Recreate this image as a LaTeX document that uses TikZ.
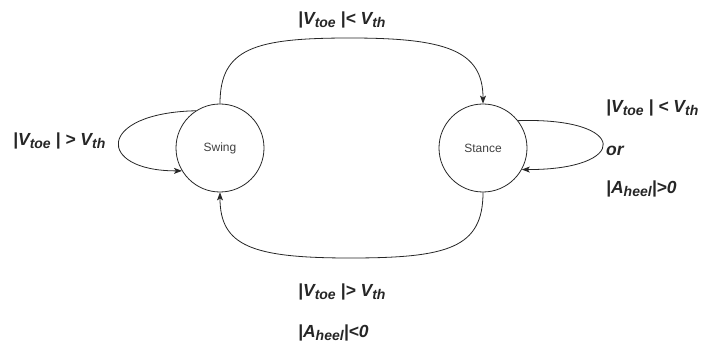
\documentclass[tikz,border=0pt]{standalone}
\usepackage{fontspec}
\setsansfont{Liberation Sans}
\usetikzlibrary{arrows.meta}
\newcommand\lowidx[1]{\raisebox{-0.35ex}{\fontsize{14}{14}\selectfont #1}}
\tikzset{
  state/.style={circle, draw=black!85, line width=0.8pt, minimum size=88pt, inner sep=0pt,
                font=\sffamily\fontsize{12}{12}\selectfont, text=black!75},
  trans/.style={draw=black!85, line width=0.8pt, -{Stealth[length=8pt,width=6pt,inset=2pt]}},
  cond/.style={font=\sffamily\bfseries\itshape\fontsize{17.5}{17.5}\selectfont, text=black!85,
               inner sep=0pt, anchor=west}
}
\begin{document}
\begin{tikzpicture}[x=1pt, y=-1pt]
  \useasboundingbox (0,0) rectangle (703,347);
  % states
  \node[state] (swing)  at (220,148) {Swing};
  \node[state] (stance) at (483,148) {Stance};
  % Swing -> Stance over the top
  \draw[trans] (swing.north) .. controls (220,48) and (255,38) .. (350,38)
               .. controls (445,38) and (483,50) .. (stance.north);
  % Stance -> Swing underneath
  \draw[trans] (stance.south) .. controls (483,248) and (448,258) .. (350,258)
               .. controls (252,258) and (220,246) .. (swing.south);
  % self loops
  \draw[trans] (swing.123) .. controls (96,113) and (96,171) .. (swing.211);
  \draw[trans] (stance.38) .. controls (630,117) and (630,170) .. (stance.331);
  % conditions
  \node[cond] (ctop)   at (298,20)  {|V\lowidx{toe} |< V\lowidx{th}};
  \node[cond] (cleft)  at (13,141)  {|V\lowidx{toe} | > V\lowidx{th}};
  \node[cond] (cright) at (606,108) {|V\lowidx{toe} | < V\lowidx{th}};
  \node[cond] (cor)    at (606,151) {or};
  \node[cond] (cheelp) at (606,189) {|A\lowidx{heel}|>0};
  \node[cond] (cbot)   at (298,292) {|V\lowidx{toe} |> V\lowidx{th}};
  \node[cond] (cheeln) at (298,333) {|A\lowidx{heel}|<0};
\end{tikzpicture}
\end{document}
